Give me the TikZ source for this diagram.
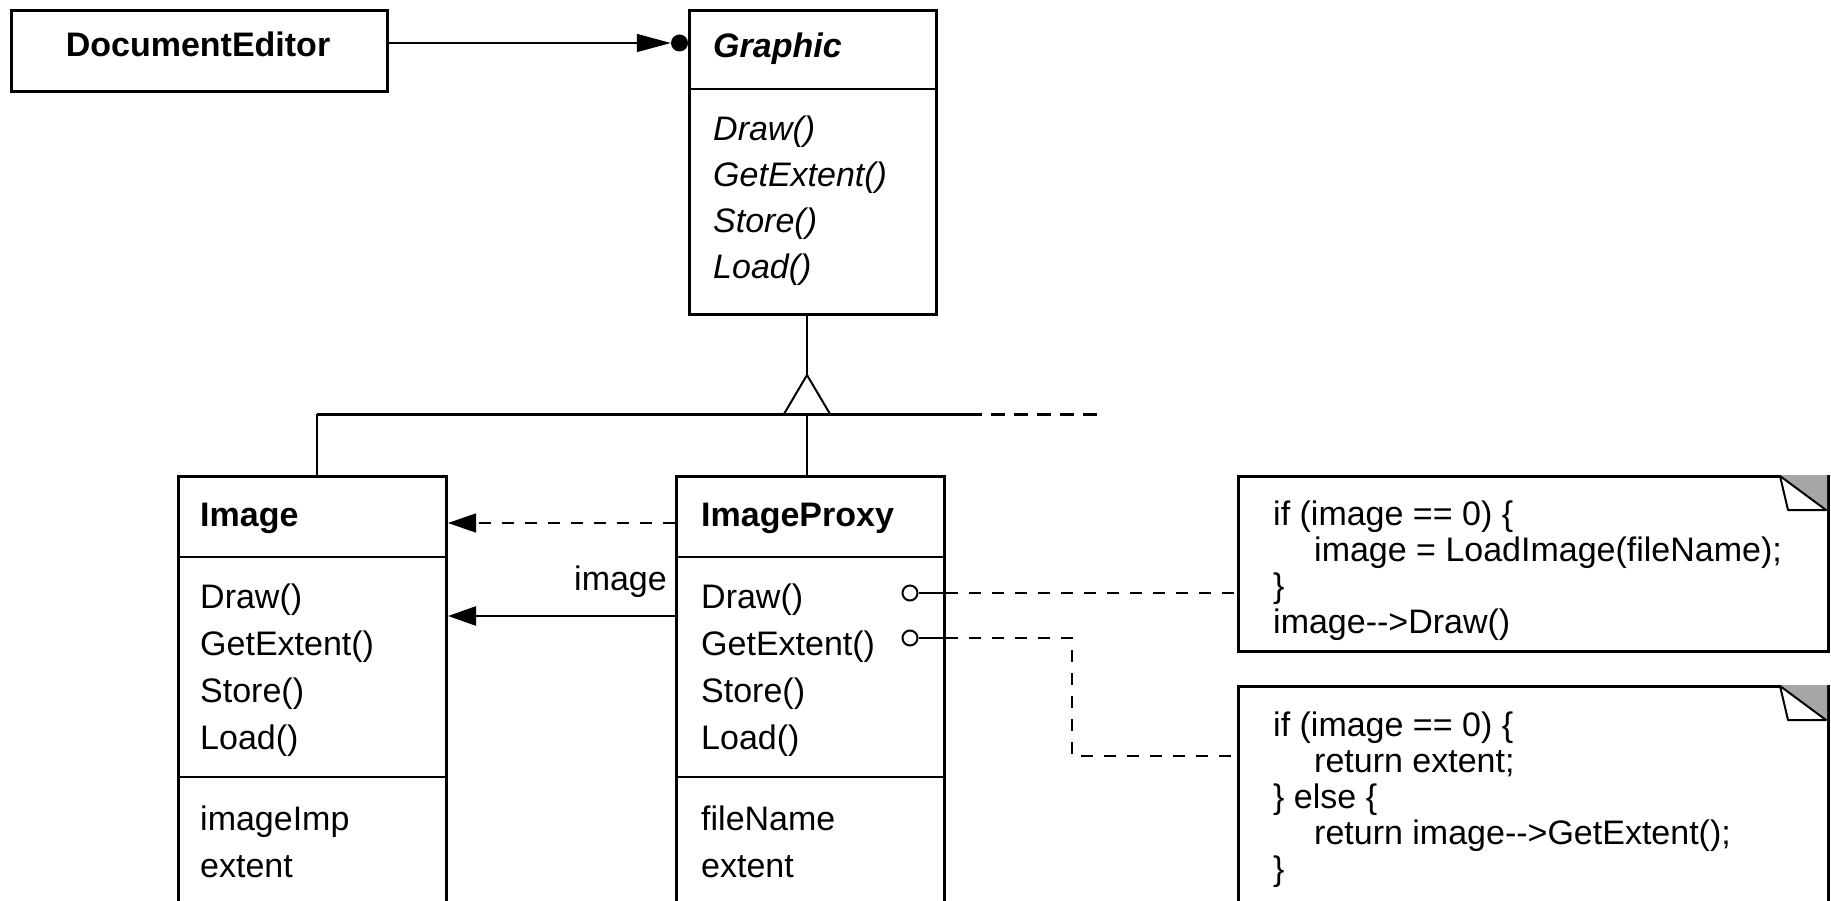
\documentclass[tikz,border=0pt]{standalone}
\usepackage{fontspec}
\setmainfont{Liberation Sans}
\usetikzlibrary{arrows.meta,calc}
\begin{document}
\begin{tikzpicture}[x=1pt,y=-1pt,
  box/.style={draw, line width=3pt, inner sep=0pt, anchor=north west},
  sepline/.style={line width=2pt},
  txt/.style={anchor=base west, inner sep=0pt, font=\fontsize{34}{40}\selectfont},
  ttl/.style={anchor=base west, inner sep=0pt, font=\fontsize{34}{40}\selectfont\bfseries},
  opi/.style={anchor=base west, inner sep=0pt, font=\fontsize{34}{40}\selectfont\itshape},
  conn/.style={line width=1.5pt},
  dconn/.style={line width=1.5pt, dash pattern=on 12pt off 11pt},
  head/.style={-{Triangle[length=28pt,width=19pt]}},
  port/.style={circle, draw, line width=2pt, fill=white, minimum size=15pt, inner sep=0pt},
  foldc/.style={fill=black!35},
  flap/.style={draw, line width=2pt, fill=white, line join=round},
]
\useasboundingbox (0,0) rectangle (1831,901);
\clip (0,0) rectangle (1831,901);

% DocumentEditor
\node[box, minimum width=376pt, minimum height=81pt] (de) at (10,9) {};
\node[ttl, anchor=base] (detxt) at (198,57) {DocumentEditor};

% Graphic
\node[box, minimum width=247pt, minimum height=304pt] (gr) at (688,9) {};
\draw[sepline] (gr.west |- 0,89) -- (gr.east |- 0,89);
\node[ttl, font=\fontsize{34}{40}\selectfont\bfseries\itshape] (grt) at (713,58) {Graphic};
\node[opi] (g1) at (713,141) {Draw()};
\node[opi] (g2) at (713,187) {GetExtent()};
\node[opi] (g3) at (713,233) {Store()};
\node[opi] (g4) at (713,279) {Load()};

% DocumentEditor -> Graphic
\node[circle, fill, minimum size=17pt, inner sep=0pt] (dot) at (679.5,43) {};
\draw[conn, -{Triangle[length=34pt,width=18pt]}] (de.east |- dot) -- (dot.west);

% Image
\node[box, minimum width=268pt, minimum height=520pt] (img) at (177,475) {};
\draw[sepline] (img.west |- 0,557) -- (img.east |- 0,557);
\draw[sepline] (img.west |- 0,777) -- (img.east |- 0,777);
\node[ttl] (imgt) at (200,526) {Image};
\node[txt] (i1) at (200,608) {Draw()};
\node[txt] (i2) at (200,655) {GetExtent()};
\node[txt] (i3) at (200,702) {Store()};
\node[txt] (i4) at (200,749) {Load()};
\node[txt] (i5) at (200,830) {imageImp};
\node[txt] (i6) at (200,877) {extent};

% ImageProxy
\node[box, minimum width=268pt, minimum height=520pt] (prx) at (675,475) {};
\draw[sepline] (prx.west |- 0,557) -- (prx.east |- 0,557);
\draw[sepline] (prx.west |- 0,777) -- (prx.east |- 0,777);
\node[ttl] (prxt) at (701,526) {ImageProxy};
\node[txt] (p1) at (701,608) {Draw()};
\node[txt] (p2) at (701,655) {GetExtent()};
\node[txt] (p3) at (701,702) {Store()};
\node[txt] (p4) at (701,749) {Load()};
\node[txt] (p5) at (701,830) {fileName};
\node[txt] (p6) at (701,877) {extent};

% Inheritance
\coordinate (apex) at (807,375);
\coordinate (bl) at (784,414);
\coordinate (br) at (830,414);
\draw[conn] (807,0 |- gr.south) -- (apex);
\draw[line width=2pt, fill=white, line join=round] (apex) -- (bl) -- (br) -- cycle;
\coordinate (barl) at (317,414);
\coordinate (bars) at (982,414);
\coordinate (bard) at (991,414);
\coordinate (bare) at (1097,414);
\draw[line width=3pt] (barl) -- (bars);
\draw[line width=3pt, dash pattern=on 14pt off 9pt] (bard) -- (bare);
\draw[conn] (barl) -- (barl |- img.north);
\draw[conn] (807,414) -- (807,0 |- prx.north);

% ImageProxy -> Image
\draw[dconn, head] (prx.west |- 0,523) -- (img.east |- 0,523);
\draw[line width=2.5pt, head] (prx.west |- 0,616) -- (img.east |- 0,616);
\node[txt, anchor=base east] (lbl) at (667,590) {image};

% Notes
\node[box, minimum width=590pt, minimum height=175pt] (n1) at (1237,475) {};
\fill[foldc] (1780,475) -- (1827,475) -- (1827,510) -- cycle;
\draw[flap] (1780,476) -- (1788,510) -- (1826,510) -- cycle;
\node[txt] (n1a) at (1273,525) {if (image == 0) \{};
\node[txt] (n1b) at (1314,561) {image = LoadImage(fileName);};
\node[txt] (n1c) at (1273,597) {\}};
\node[txt] (n1d) at (1273,633) {image-{}->Draw()};

\node[box, minimum width=590pt, minimum height=320pt] (n2) at (1237,685) {};
\fill[foldc] (1780,685) -- (1827,685) -- (1827,720) -- cycle;
\draw[flap] (1780,686) -- (1788,720) -- (1826,720) -- cycle;
\node[txt] (n2a) at (1273,736) {if (image == 0) \{};
\node[txt] (n2b) at (1314,772) {return extent;};
\node[txt] (n2c) at (1273,808) {\} else \{};
\node[txt] (n2d) at (1314,844) {return image-{}->GetExtent();};
\node[txt] (n2e) at (1273,880) {\}};

% Ports and note links
\node[port] (c1) at (910,593) {};
\node[port] (c2) at (910,638) {};
\draw[conn] (c1.east) -- (prx.east |- c1);
\draw[conn] (c2.east) -- (prx.east |- c2);
\draw[dconn] (prx.east |- c1) -- (n1.west |- c1);
\coordinate (k1) at (1072,638);
\coordinate (k2) at (1072,756);
\draw[dconn] (prx.east |- c2) -- (k1) -- (k2) -- (n2.west |- k2);
\end{tikzpicture}
\end{document}
